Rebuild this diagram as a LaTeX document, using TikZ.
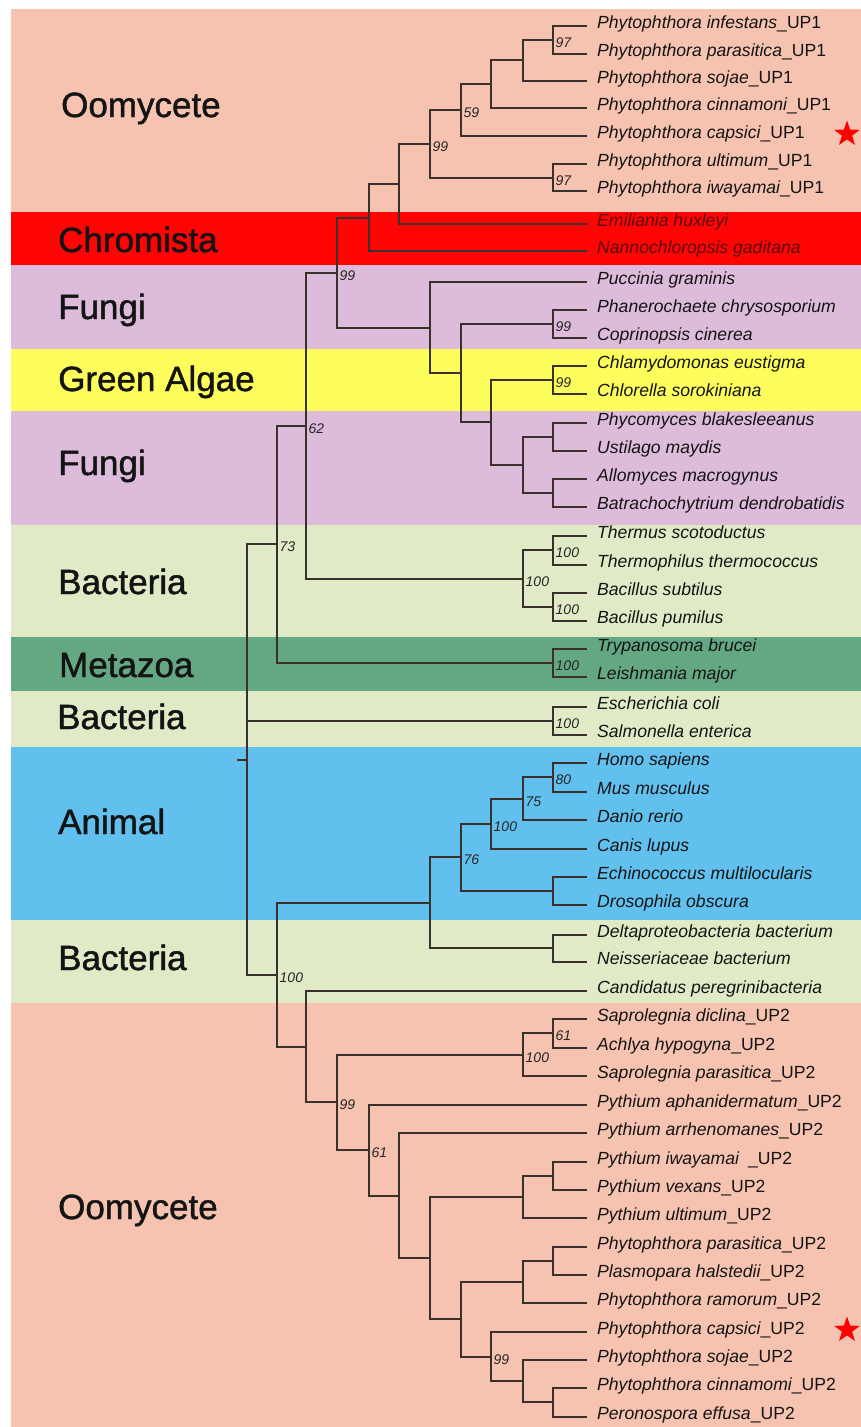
\documentclass[tikz,border=0pt]{standalone}
\usepackage{fontspec}
\setmainfont{Liberation Sans}
\newfontfamily\catfont[FakeBold=1.3]{Liberation Sans}
\usetikzlibrary{shapes.geometric}
\definecolor{oomy}{RGB}{245,195,175}
\definecolor{chrom}{RGB}{254,4,4}
\definecolor{fungi}{RGB}{221,187,219}
\definecolor{algae}{RGB}{253,253,92}
\definecolor{bact}{RGB}{224,234,198}
\definecolor{meta}{RGB}{99,168,130}
\definecolor{anim}{RGB}{97,192,238}
\definecolor{branch}{RGB}{58,48,44}
\definecolor{chromtext}{RGB}{90,10,10}
\tikzset{
  br/.style={draw=branch, line width=1.9pt},
  leaf/.style={anchor=base west, inner sep=0pt, font=\fontsize{17.6}{19}\selectfont\itshape, text=black!92},
  bs/.style={anchor=base west, inner sep=0pt, font=\fontsize{14}{15}\selectfont\itshape, text=black!85, xshift=2.5pt, yshift=-7pt},
  cat/.style={anchor=base west, inner sep=0pt, font=\catfont\fontsize{35}{37}\selectfont, text=black!92},
  redstar/.style={star, star points=5, star point ratio=2.5, fill=red, draw=none, minimum size=27pt, inner sep=0pt}
}
\begin{document}
\begin{tikzpicture}[x=1pt, y=-1pt]
\useasboundingbox (0,0) rectangle (861,1427);
\fill[white] (0,0) rectangle (861,1427);
% bands
\fill[oomy]  (11,9)    rectangle (861,212);
\fill[chrom] (11,212)  rectangle (861,265);
\fill[fungi] (11,265)  rectangle (861,349);
\fill[algae] (11,349)  rectangle (861,411);
\fill[fungi] (11,411)  rectangle (861,525);
\fill[bact]  (11,525)  rectangle (861,637);
\fill[meta]  (11,637)  rectangle (861,691);
\fill[bact]  (11,691)  rectangle (861,747);
\fill[anim]  (11,747)  rectangle (861,920);
\fill[bact]  (11,920)  rectangle (861,1003);
\fill[oomy]  (11,1003) rectangle (861,1427);
% category labels
\node[cat] (c1) at (61,117) {Oomycete};
\node[cat] (c2) at (58,252) {Chromista};
\node[cat] (c3) at (58,319) {Fungi};
\node[cat] (c4) at (58,391) {Green Algae};
\node[cat] (c5) at (58,475) {Fungi};
\node[cat] (c6) at (58,594) {Bacteria};
\node[cat] (c7) at (59,677) {Metazoa};
\node[cat] (c8) at (57,729) {Bacteria};
\node[cat] (c9) at (58,834) {Animal};
\node[cat] (c10) at (58,970) {Bacteria};
\node[cat] (c11) at (58,1219) {Oomycete};
% leaves
\foreach \n/\y/\t in {
 1/26/{Phytophthora infestans\upshape\_UP1},
 2/54/{Phytophthora parasitica\upshape\_UP1},
 3/81/{Phytophthora sojae\upshape\_UP1},
 4/108/{Phytophthora cinnamoni\upshape\_UP1},
 5/136/{Phytophthora capsici\upshape\_UP1},
 6/164/{Phytophthora ultimum\upshape\_UP1},
 7/191/{Phytophthora iwayamai\upshape\_UP1},
 10/282/{Puccinia graminis},
 11/310/{Phanerochaete chrysosporium},
 12/338/{Coprinopsis cinerea},
 13/366/{Chlamydomonas eustigma},
 14/394/{Chlorella sorokiniana},
 15/423/{Phycomyces blakesleeanus},
 16/451/{Ustilago maydis},
 17/479/{Allomyces macrogynus},
 18/507/{Batrachochytrium dendrobatidis},
 19/536/{Thermus scotoductus},
 20/565/{Thermophilus thermococcus},
 21/593/{Bacillus subtilus},
 22/621/{Bacillus pumilus},
 23/649/{Trypanosoma brucei},
 24/677/{Leishmania major},
 25/707/{Escherichia coli},
 26/735/{Salmonella enterica},
 27/763/{Homo sapiens},
 28/792/{Mus musculus},
 29/820/{Danio rerio},
 30/849/{Canis lupus},
 31/877/{Echinococcus multilocularis},
 32/905/{Drosophila obscura},
 33/935/{Deltaproteobacteria bacterium},
 34/962/{Neisseriaceae bacterium},
 35/991/{Candidatus peregrinibacteria},
 36/1019/{Saprolegnia diclina\upshape\_UP2},
 37/1048/{Achlya hypogyna\upshape\_UP2},
 38/1076/{Saprolegnia parasitica\upshape\_UP2},
 39/1105/{Pythium aphanidermatum\upshape\_UP2},
 40/1133/{Pythium arrhenomanes\upshape\_UP2},
 41/1162/{Pythium iwayamai\hspace{9pt}\upshape\_UP2},
 42/1190/{Pythium vexans\upshape\_UP2},
 43/1218/{Pythium ultimum\upshape\_UP2},
 44/1247/{Phytophthora parasitica\upshape\_UP2},
 45/1275/{Plasmopara halstedii\upshape\_UP2},
 46/1303/{Phytophthora ramorum\upshape\_UP2},
 47/1332/{Phytophthora capsici\upshape\_UP2},
 48/1360/{Phytophthora sojae\upshape\_UP2},
 49/1388/{Phytophthora cinnamomi\upshape\_UP2},
 50/1417/{Peronospora effusa\upshape\_UP2}}{
  \coordinate (l\n) at (587,\y);
  \node[leaf] (t\n) at (597,\y+2) {\t};
}
\coordinate (l8) at (587,224);
\node[leaf, text=chromtext] (t8) at (597,226) {Emiliania huxleyi};
\coordinate (l9) at (587,251);
\node[leaf, text=chromtext] (t9) at (597,253) {Nannochloropsis gaditana};
% stars
\node[redstar] (s1) at (847,134) {};
\node[redstar] (s2) at (847,1330) {};
% internal nodes
\coordinate (A) at (553,40);
\coordinate (B) at (523,60);
\coordinate (C) at (491,84);
\coordinate (D) at (461,110);
\coordinate (E) at (553,178);
\coordinate (F) at (430,144);
\coordinate (G) at (399,184);
\coordinate (H) at (369,218);
\coordinate (J) at (553,324);
\coordinate (K) at (553,380);
\coordinate (L1) at (553,437);
\coordinate (L2) at (553,493);
\coordinate (M) at (523,465);
\coordinate (N) at (491,422);
\coordinate (O) at (461,373);
\coordinate (P) at (430,328);
\coordinate (I) at (337,273);
\coordinate (Q1) at (553,550);
\coordinate (Q2) at (553,607);
\coordinate (R) at (523,579);
\coordinate (S) at (306,426);
\coordinate (T) at (553,663);
\coordinate (U) at (277,544);
\coordinate (V) at (553,721);
\coordinate (W1) at (553,777);
\coordinate (W2) at (523,799);
\coordinate (W3) at (491,824);
\coordinate (W4) at (553,891);
\coordinate (W5) at (461,857);
\coordinate (X) at (553,948);
\coordinate (Y) at (430,903);
\coordinate (Z1) at (553,1033);
\coordinate (Z2) at (523,1055);
\coordinate (P1) at (553,1176);
\coordinate (P2) at (523,1197);
\coordinate (Ph1) at (553,1261);
\coordinate (Ph2) at (523,1282);
\coordinate (Ph3) at (553,1402);
\coordinate (Ph4) at (523,1381);
\coordinate (Ph5) at (491,1357);
\coordinate (Ph6) at (461,1319);
\coordinate (Ph7) at (430,1258);
\coordinate (Ph8) at (399,1196);
\coordinate (Ph9) at (369,1150);
\coordinate (Ph10) at (337,1102);
\coordinate (Ph11) at (306,1047);
\coordinate (Ph12) at (277,975);
\coordinate (root) at (247,760);
\coordinate (r0) at (237,760);
% branches
\foreach \p/\c in {A/l1,A/l2,B/A,B/l3,C/B,C/l4,D/C,D/l5,E/l6,E/l7,F/D,F/E,G/F,G/l8,H/G,H/l9,
  I/H,I/P,J/l11,J/l12,K/l13,K/l14,L1/l15,L1/l16,L2/l17,L2/l18,M/L1,M/L2,N/K,N/M,O/J,O/N,P/l10,P/O,
  Q1/l19,Q1/l20,Q2/l21,Q2/l22,R/Q1,R/Q2,S/I,S/R,T/l23,T/l24,U/S,U/T,V/l25,V/l26,
  W1/l27,W1/l28,W2/W1,W2/l29,W3/W2,W3/l30,W4/l31,W4/l32,W5/W3,W5/W4,X/l33,X/l34,Y/W5,Y/X,
  Z1/l36,Z1/l37,Z2/Z1,Z2/l38,P1/l41,P1/l42,P2/P1,P2/l43,Ph1/l44,Ph1/l45,Ph2/Ph1,Ph2/l46,
  Ph3/l49,Ph3/l50,Ph4/l48,Ph4/Ph3,Ph5/l47,Ph5/Ph4,Ph6/Ph2,Ph6/Ph5,Ph7/P2,Ph7/Ph6,Ph8/l40,Ph8/Ph7,
  Ph9/l39,Ph9/Ph8,Ph10/Z2,Ph10/Ph9,Ph11/l35,Ph11/Ph10,Ph12/Y,Ph12/Ph11,root/U,root/V,root/Ph12}{
  \draw[br] (\p) |- (\c);
}
\draw[br] (r0) -- (root);
% bootstrap values
\foreach \p/\v in {A/97,D/59,E/97,F/99,I/99,J/99,K/99,S/62,U/73,Q1/100,Q2/100,R/100,T/100,V/100,
  W1/80,W2/75,W3/100,W5/76,Ph12/100,Z1/61,Z2/100,Ph10/99,Ph9/61,Ph5/99}{
  \node[bs] (b\p) at (\p) {\v};
}
\end{tikzpicture}
\end{document}
